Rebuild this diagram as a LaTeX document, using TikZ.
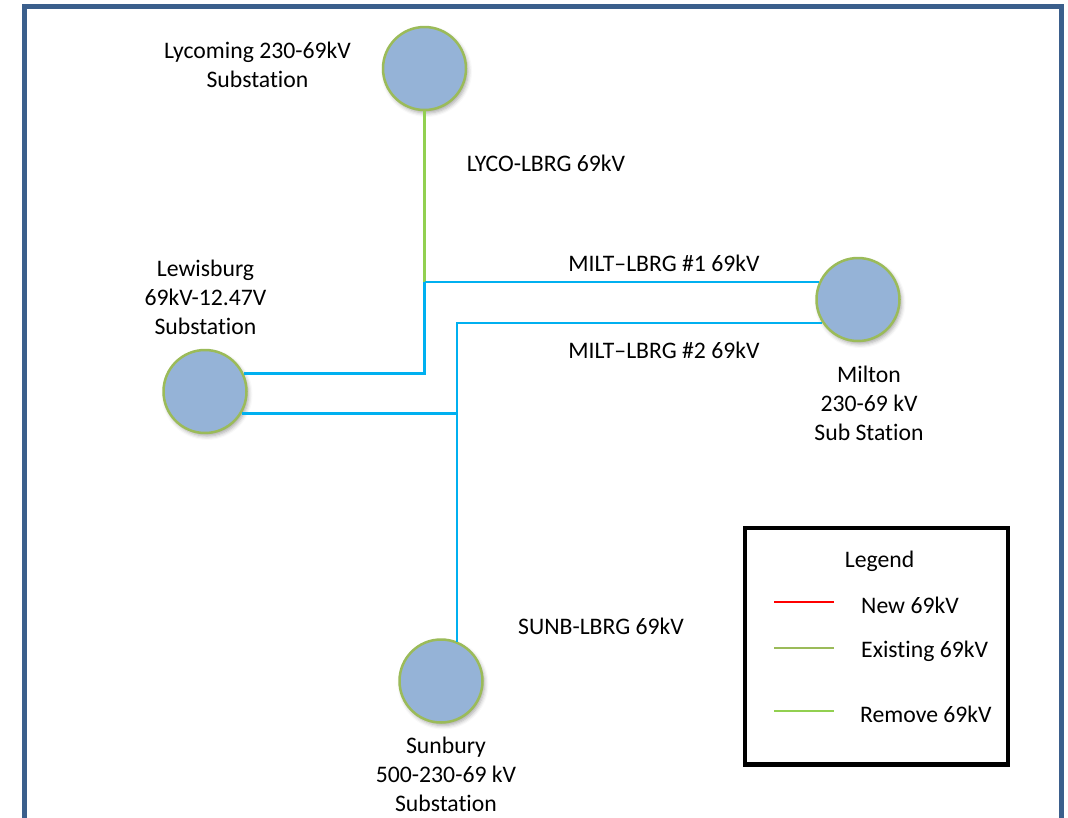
\documentclass[tikz,border=0pt]{standalone}
\usepackage{fontspec}
\setmainfont{Carlito}[Ligatures={TeX,NoCommon}]
\usetikzlibrary{shadows.blur}
\definecolor{frameblue}{HTML}{3B5F8C}
\definecolor{subfill}{HTML}{95B3D7}
\definecolor{subedge}{HTML}{9BBB59}
\definecolor{lineblue}{HTML}{00B0F0}
\definecolor{linegreen}{HTML}{92D050}
\definecolor{clrnew}{HTML}{FF0000}
\begin{document}
\begin{tikzpicture}[x=1pt,y=-1pt,
  every node/.style={font=\fontsize{23.7}{28.7}\selectfont, inner sep=0pt},
  substation/.style={circle, draw=subedge, fill=subfill, line width=2.5pt, minimum size=83pt,
     blur shadow={shadow xshift=2pt, shadow yshift=-3pt, shadow blur radius=4pt, shadow opacity=35}},
  lbl/.style={align=center},
  bline/.style={draw=lineblue, line width=2.5pt},
  gline/.style={draw=linegreen, line width=2.5pt},
  legline/.style={line width=2pt},
]
\useasboundingbox (0,0) rectangle (1068,817);
\draw[draw=frameblue, line width=5pt] (24,6.5) rectangle (1061.5,840);

% substations
\node[substation] (lyc) at (424.5,68.5) {};
\node[substation] (lew) at (205,391.5) {};
\node[substation] (mil) at (858,299.5) {};
\node[substation] (sun) at (441,681) {};

% substation labels
\node[lbl] (lyct) at (257.5,65) {Lycoming 230-69kV\\Substation};
\node[lbl] (lewt) at (205.5,297.5) {Lewisburg\\69kV-12.47V\\Substation};
\node[lbl] (milt) at (869,403.5) {Milton\\230-69 kV\\Sub Station};
\node[lbl] (sunt) at (446,774.5) {Sunbury\\500-230-69 kV\\Substation};

% junction coordinates
\coordinate (j1) at (424.5,282);
\coordinate (j2) at (424.5,373.3);
\coordinate (j3) at (457,323);
\coordinate (j4) at (457,413.3);

% lines
\draw[gline] (lyc.south) -- (j1);
\draw[bline] (j1) -- (mil.155.7 |- j1);
\draw[bline] (lew.25.8 |- j2) -- (j2) -- (j1);
\draw[bline] (lew.-30.4 |- j4) -- (j4);
\draw[bline] (mil.213.6 |- j3) -- (j3) -- (j4) -- (j4 |- sun.67.9);

% line labels
\node (lycol) at (546,163) {LYCO-LBRG 69kV};
\node (m1l) at (664,263) {MILT–LBRG \#1 69kV};
\node (m2l) at (664,350) {MILT–LBRG \#2 69kV};
\node (sunl) at (601,626) {SUNB-LBRG 69kV};

% legend
\node[draw=black, line width=4.5pt, minimum width=263pt, minimum height=236.5pt] (leg) at (876.5,646.3) {};
\node (legt) at (879.5,561) {Legend};
\coordinate (r1a) at (774,601.7); \coordinate (r1b) at (834,601.7);
\coordinate (r2a) at (774,647.7); \coordinate (r2b) at (834,647.7);
\coordinate (r3a) at (774,710.7); \coordinate (r3b) at (834,710.7);
\draw[legline, draw=clrnew] (r1a) -- (r1b);
\draw[legline, draw=subedge] (r2a) -- (r2b);
\draw[legline, draw=linegreen] (r3a) -- (r3b);
\node[anchor=west] (l1) at (861,605) {New 69kV};
\node[anchor=west] (l2) at (861,651) {Existing 69kV};
\node[anchor=west] (l3) at (860,714) {Remove 69kV};
\end{tikzpicture}
\end{document}
